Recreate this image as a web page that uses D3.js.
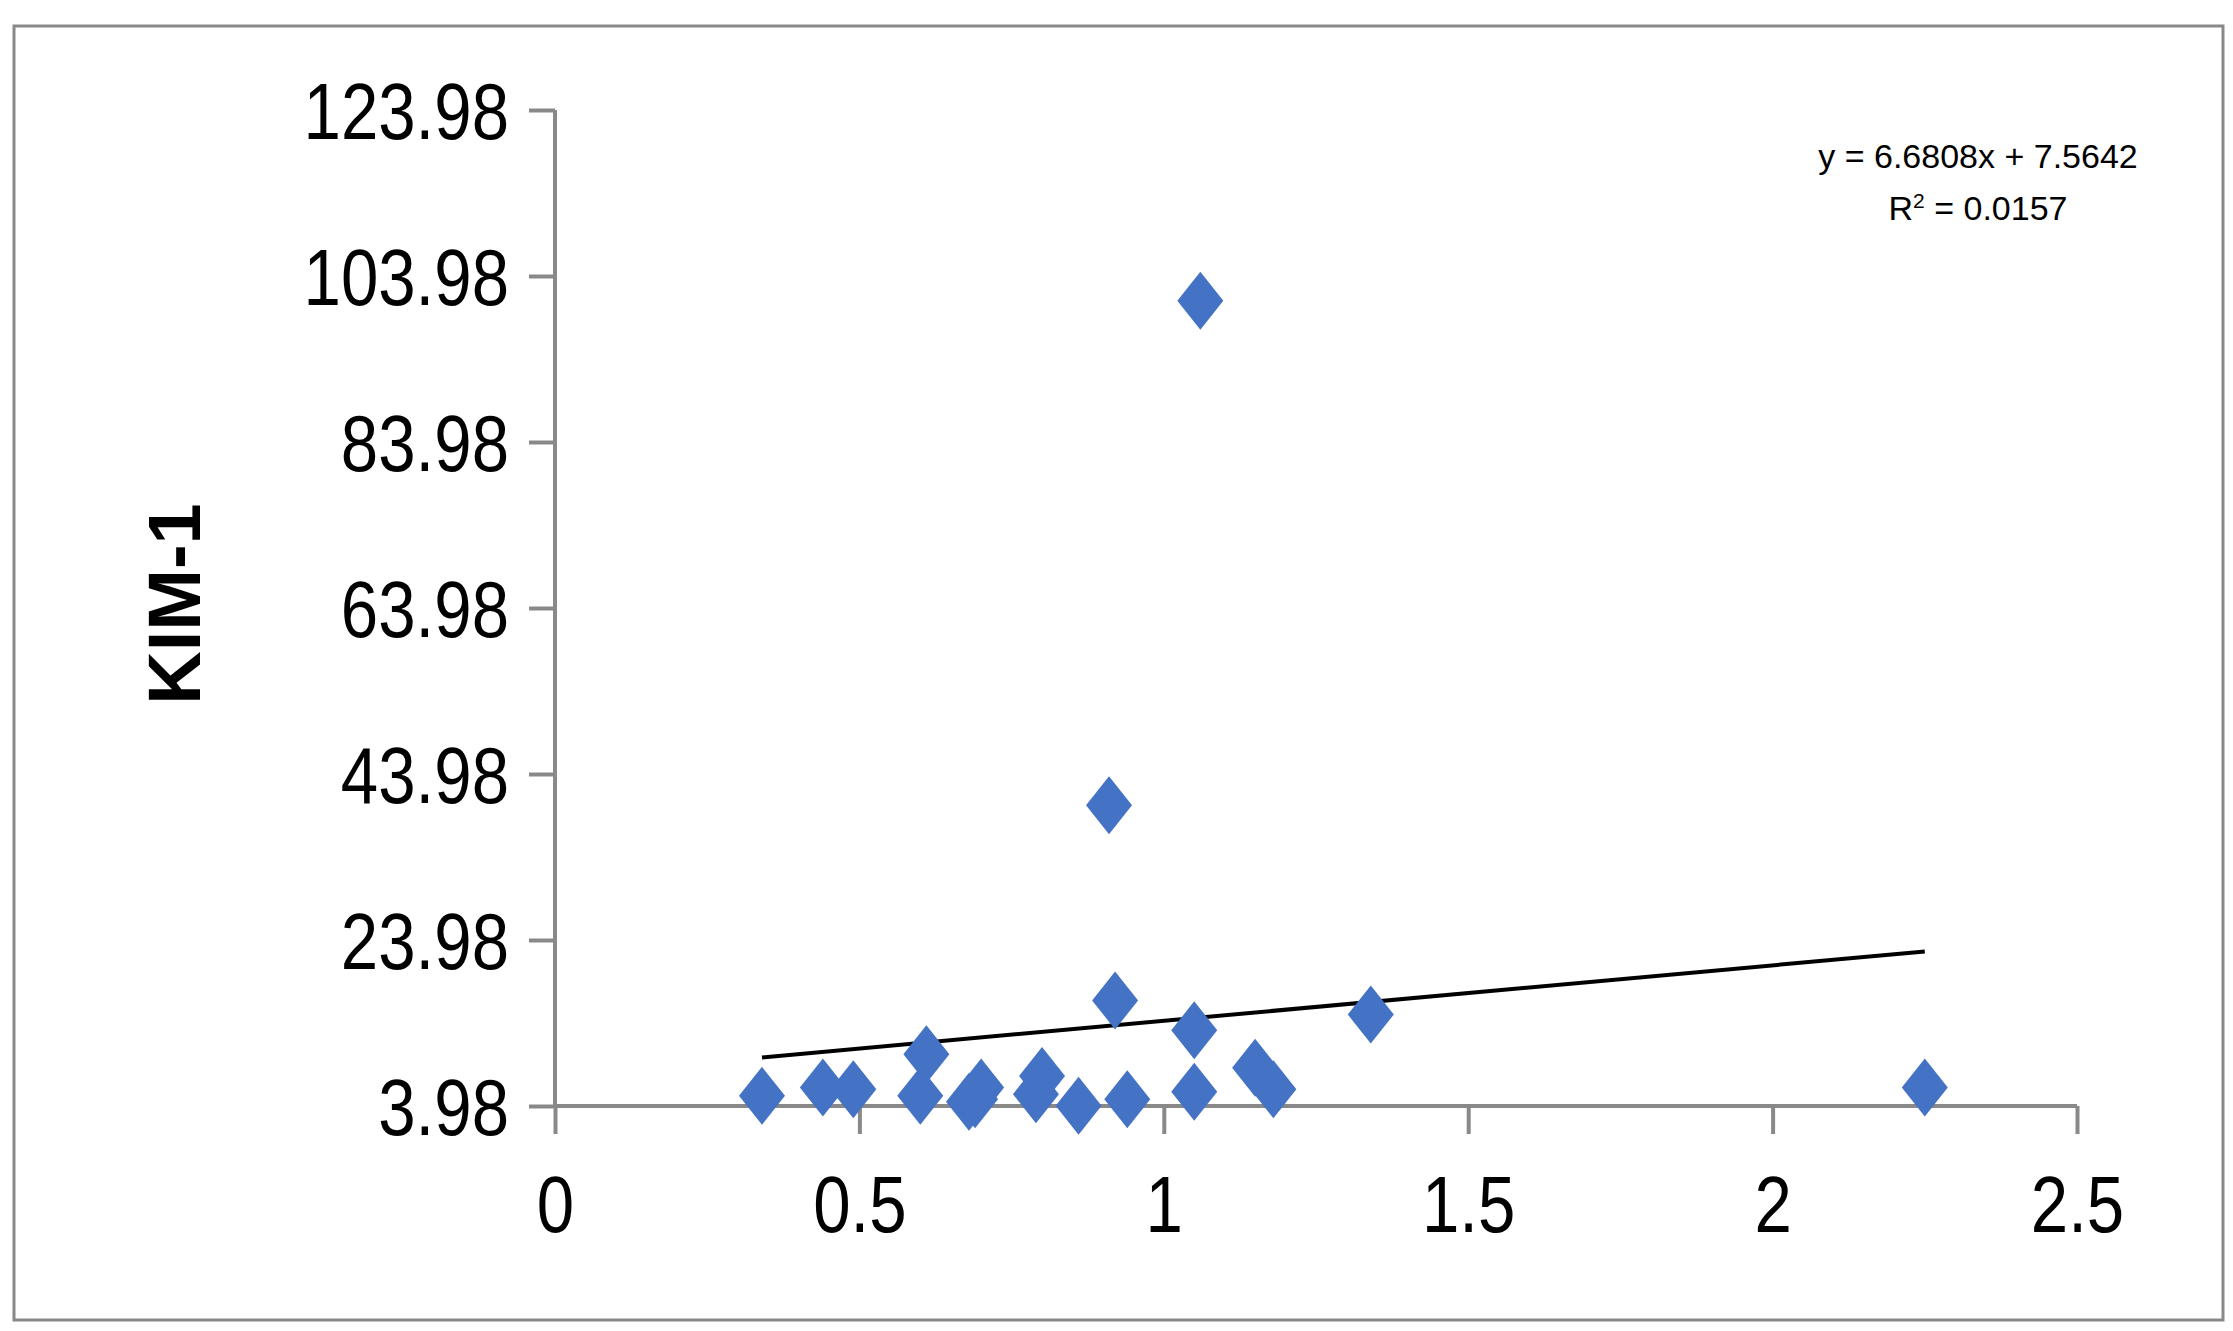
<!DOCTYPE html>
<html>
<head>
<meta charset="utf-8">
<script src="https://d3js.org/d3.v7.min.js"></script>
<style>
  body { margin: 0; background: #fff; }
  text { font-family: "Liberation Sans Narrow", "Liberation Sans", sans-serif; }
</style>
</head>
<body>
<div id="chart"></div>
<script>
// values
var xValues = [0.34, 0.44, 0.49, 0.60, 0.61, 0.68, 0.69, 0.70, 0.79, 0.80, 0.86, 0.91, 0.92, 0.94, 1.05, 1.05, 1.06, 1.15, 1.18, 1.34, 2.25];
var yValues = [5.2, 6.2, 6.0, 5.2, 10.2, 4.5, 4.8, 6.2, 5.4, 7.6, 4.0, 40.2, 16.7, 4.8, 5.7, 13.1, 101.0, 8.6, 6.0, 15.0, 6.2];
var yTicks = [3.98, 23.98, 43.98, 63.98, 83.98, 103.98, 123.98];
var xTicks = [0, 0.5, 1, 1.5, 2, 2.5];
var trend = { slope: 6.6808, intercept: 7.5642, r2: 0.0157 };

var svgWidth = 2233, svgHeight = 1331;
var margin = { top: 110, right: 156, bottom: 225, left: 555 };
var chartWidth = svgWidth - margin.left - margin.right;
var chartHeight = svgHeight - margin.top - margin.bottom;

var svg = d3.select("#chart").append("svg")
  .attr("width", svgWidth)
  .attr("height", svgHeight);

// outer frame
svg.append("rect")
  .attr("x", 14).attr("y", 26)
  .attr("width", 2209).attr("height", 1294)
  .attr("fill", "none").attr("stroke", "#898989").attr("stroke-width", 3);

var chartGroup = svg.append("g")
  .attr("transform", `translate(${margin.left}, ${margin.top})`);

var xScale = d3.scaleLinear().domain([0, 2.5]).range([0, chartWidth]);
var yScale = d3.scaleLinear().domain([3.98, 123.98]).range([chartHeight, 0]);

var leftAxis = d3.axisLeft(yScale).tickValues(yTicks).tickFormat(d => d.toFixed(2)).tickSize(26).tickPadding(20);
var bottomAxis = d3.axisBottom(xScale).tickValues(xTicks).tickFormat(d => d).tickSize(28).tickPadding(40);

var yAxisG = chartGroup.append("g").call(leftAxis);
var xAxisG = chartGroup.append("g")
  .attr("transform", `translate(0, ${chartHeight})`)
  .call(bottomAxis);

[yAxisG, xAxisG].forEach(function(g) {
  g.select(".domain").attr("stroke", "#898989").attr("stroke-width", 4);
  g.selectAll(".tick line").attr("stroke", "#898989").attr("stroke-width", 4);
  g.selectAll(".tick text").attr("fill", "#000").style("font-size", "80px");
});
// squeeze labels horizontally to look like the narrow original font
yAxisG.selectAll(".tick text").attr("dy", "0.36em")
  .attr("transform", "scale(0.84,1)").attr("x", -46 / 0.84);
xAxisG.selectAll(".tick text").attr("dy", "0.72em")
  .attr("transform", "scale(0.84,1)");
yAxisG.select(".domain").attr("d", `M0,${chartHeight}V0`);
xAxisG.select(".domain").attr("d", `M0,0H${chartWidth}`);

// trendline
var xs = d3.extent(xValues);
chartGroup.append("line")
  .attr("x1", xScale(xs[0])).attr("y1", yScale(trend.slope * xs[0] + trend.intercept))
  .attr("x2", xScale(xs[1])).attr("y2", yScale(trend.slope * xs[1] + trend.intercept))
  .attr("stroke", "#000").attr("stroke-width", 4);

// points
var pts = xValues.map((x, i) => ({ x: x, y: yValues[i] }));
chartGroup.selectAll("path.pt")
  .data(pts)
  .enter()
  .append("path")
  .attr("class", "pt")
  .attr("d", "M0,-29L23,0L0,29L-23,0Z")
  .attr("transform", d => `translate(${xScale(d.x)}, ${yScale(d.y)})`)
  .attr("fill", "#4472C4");

// y axis title
chartGroup.append("text")
  .attr("transform", "rotate(-90)")
  .attr("x", -(chartHeight / 2) + 4)
  .attr("y", -margin.left + 200)
  .attr("text-anchor", "middle")
  .style("font-family", "'Liberation Sans', sans-serif")
  .style("font-weight", "bold")
  .style("font-size", "74px")
  .text("KIM-1");

// equation
var eq = chartGroup.append("text")
  .attr("text-anchor", "middle")
  .style("font-size", "34px");
eq.append("tspan").attr("x", 1423).attr("y", 58).text(`y = ${trend.slope}x + ${trend.intercept}`);
var r = eq.append("tspan").attr("x", 1423).attr("y", 110);
r.append("tspan").text("R");
r.append("tspan").attr("dy", -12).style("font-size", "21px").text("2");
r.append("tspan").attr("dy", 12).text(` = ${trend.r2}`);
</script>
</body>
</html>
